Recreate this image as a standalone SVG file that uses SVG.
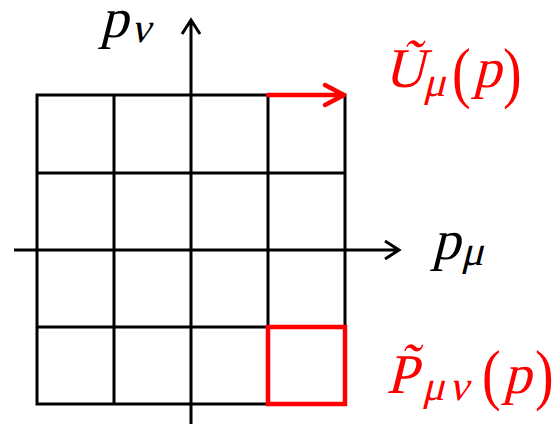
<svg xmlns="http://www.w3.org/2000/svg" width="560" height="425" viewBox="0 0 560 425">
<style>
.g{stroke:#000;stroke-width:3;fill:none;stroke-linecap:square}
.ax{stroke:#000;stroke-width:3;fill:none}
.red{stroke:#f00;stroke-width:4.5;fill:none}
.big{font-size:56px}
.sub{font-size:42px}
.r{fill:#f00}
</style>
<rect width="560" height="425" fill="#fff"/>
<g id="grid">
<path class="g" d="M37,95H345M37,173H345M37,327H345M37,404H345M37,95V404M114,95V404M268,95V404M345,95V404"/>
</g>
<g id="axes">
<path class="ax" d="M191,424V20M182,34L191,20L200,34"/>
<path class="ax" d="M14,250H399M385,241L399,250L385,259"/>
</g>
<g id="link">
<path class="red" d="M268,95H343M325,85L344,95L325,105" stroke-linecap="round" stroke-linejoin="round"/>
</g>
<g id="plaquette">
<rect class="red" x="268" y="327" width="77" height="77"/>
</g>
<g font-family="Liberation Serif, DejaVu Serif, serif">
<g id="label-pnu">
<text class="big" font-family="Liberation Serif, serif" transform="translate(100,37) skewX(-14)">p</text>
<text class="sub" font-family="Liberation Serif, serif" transform="translate(131,42) skewX(-14)">ν</text>
</g>
<g id="label-pmu">
<text class="big" font-family="Liberation Serif, serif" transform="translate(432,259) skewX(-14)">p</text>
<text class="sub" font-family="Liberation Serif, serif" transform="translate(461,265) skewX(-14)">μ</text>
</g>
<g id="label-U">
<text class="big r" font-family="Liberation Serif, serif" transform="translate(384,87) skewX(-14)">Ũ</text>
<text class="sub r" font-family="Liberation Serif, serif" transform="translate(423,96) skewX(-14)">μ</text>
<text class="big r" font-family="Liberation Serif, serif" transform="translate(452,95) scale(1,1.2)">(</text>
<text class="big r" font-family="Liberation Serif, serif" transform="translate(473,87) skewX(-14)">p</text>
<text class="big r" font-family="Liberation Serif, serif" transform="translate(503,95) scale(1,1.2)">)</text>
</g>
<g id="label-P">
<text class="big r" font-family="Liberation Serif, serif" transform="translate(386,393) skewX(-14)">P̃</text>
<text class="sub r" font-family="Liberation Serif, serif" transform="translate(422,400) skewX(-14)">μ<tspan x="27">ν</tspan></text>
<text class="big r" font-family="Liberation Serif, serif" transform="translate(482,397) scale(1,1.2)">(</text>
<text class="big r" font-family="Liberation Serif, serif" transform="translate(503,393) skewX(-14)">p</text>
<text class="big r" font-family="Liberation Serif, serif" transform="translate(535,397) scale(1,1.2)">)</text>
</g>
</g>
</svg>
